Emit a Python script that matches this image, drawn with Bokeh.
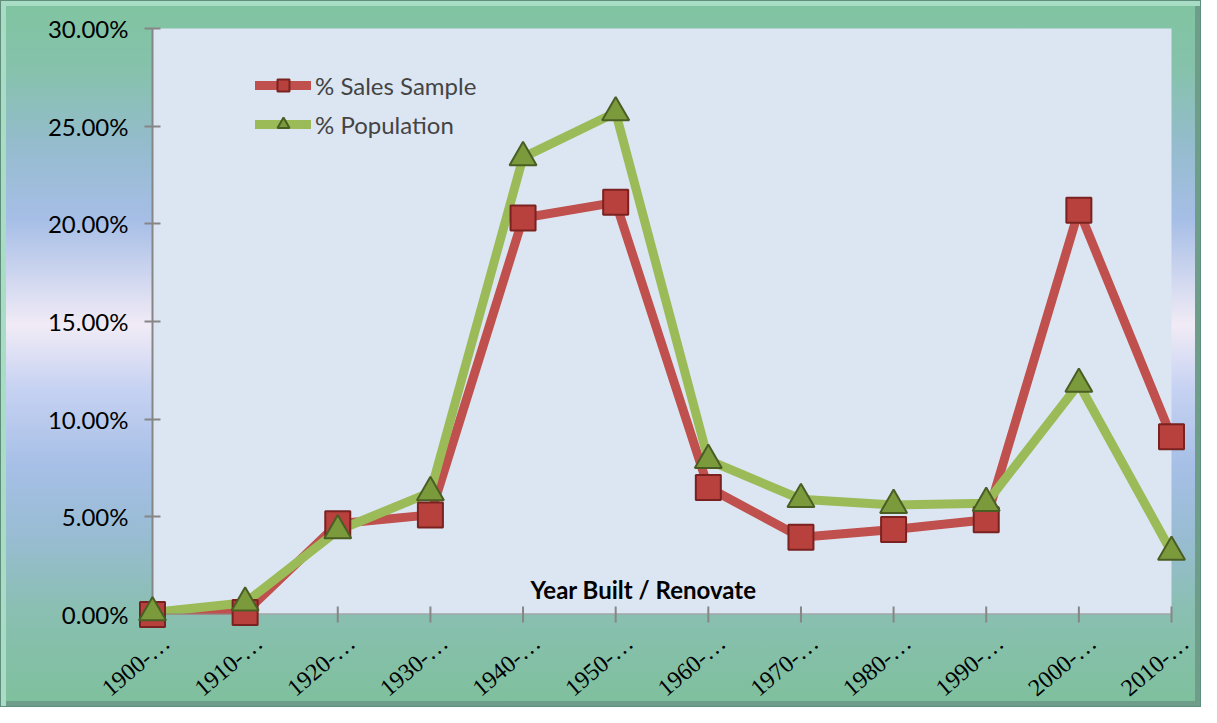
from bokeh.plotting import figure
from bokeh.models import (Range1d, FixedTicker, PrintfTickFormatter, Legend, LegendItem, Label,
                          ColumnDataSource, Span)
from bokeh.embed import file_html
from bokeh.resources import INLINE

categories = ["1900-…", "1910-…", "1920-…", "1930-…", "1940-…", "1950-…",
              "1960-…", "1970-…", "1980-…", "1990-…", "2000-…", "2010-…"]
sales_sample = [0.0, 0.1, 4.65, 5.1, 20.3, 21.1, 6.5, 3.95, 4.35, 4.85, 20.7, 9.1]
population = [0.1, 0.6, 4.3, 6.25, 23.4, 25.7, 7.9, 5.9, 5.6, 5.7, 11.8, 3.2]
y_ticks = [0, 5, 10, 15, 20, 25, 30]
axis_title = "Year Built / Renovate"

FONT = "Lato"
RED = "#c0504d"
GREEN = "#9bbb59"
AXIS = "#868686"

xs = list(range(len(categories)))

p = figure(width=1201, height=707, output_backend="svg", toolbar_location=None,
           x_range=Range1d(0, len(categories) - 1), y_range=Range1d(0, 30),
           min_border_left=152, min_border_right=30, min_border_top=28, min_border_bottom=93)

p.background_fill_color = "#dce6f2"
p.border_fill_color = None
p.outline_line_color = None
p.grid.visible = False
p.styles = {
    "background": "linear-gradient(180deg, #80c4a0 0%, #86c2ac 10%, #94bccc 20%, #a6bee6 31%, "
                  "#f1ebf6 46%, #c6d2f2 55%, #a6bfe6 66%, #98bcd2 76%, #8abfb2 86%, #7ec09c 100%)",
    "box-shadow": "inset 0 0 0 1px #5f8f7c, inset 3px 3px 0 3px #a8dcc4, inset -3px -3px 0 3px #6e9e8a",
}

yax = p.yaxis[0]
yax.axis_line_color = AXIS
yax.axis_line_width = 2
yax.major_tick_line_color = AXIS
yax.major_tick_line_width = 2
yax.major_tick_in = 8
yax.major_tick_out = 8
yax.minor_tick_line_color = None
yax.major_label_text_font = FONT
yax.major_label_text_font_size = "24px"
yax.major_label_text_color = "#000000"
yax.ticker = FixedTicker(ticks=y_ticks)
yax.formatter = PrintfTickFormatter(format="%.2f%%")
yax.major_label_standoff = 16

# category axis drawn by hand: axis line, crossing ticks and rotated labels
p.xaxis.visible = False
p.add_layout(Span(location=0, dimension="width", line_color=AXIS, line_width=2))
tick_src = ColumnDataSource(dict(x=xs, y=[0] * len(xs)))
p.scatter(x="x", y="y", source=tick_src, marker="dash", angle=1.5708, size=16,
          line_color=AXIS, line_width=2, level="annotation")

r_line = p.line(xs, sales_sample, line_color=RED, line_width=9, line_cap="round", line_join="round")
g_line = p.line(xs, population, line_color=GREEN, line_width=9, line_cap="round", line_join="round")
r_mark = p.scatter(xs, sales_sample, marker="square", size=25, fill_color="#b8403d",
                   line_color="#7a2220", line_width=2, level="overlay")
g_mark = p.scatter(xs, population, marker="triangle", size=27, fill_color="#7a9a3c",
                   line_color="#4a5e24", line_width=2, level="overlay")

label_src = ColumnDataSource(dict(x=xs, y=[0] * len(xs), text=categories))
p.text(x="x", y="y", text="text", source=label_src, angle=0.70, text_align="right",
       text_baseline="middle", x_offset=14, y_offset=25, text_font=FONT,
       text_font_size="24px", text_color="#000000", level="overlay")

p.add_layout(Label(x=5.3, y=1.3, text=axis_title, text_font=FONT, text_font_size="24px",
                   text_font_style="bold", text_align="center", text_baseline="middle",
                   text_color="#000000"))

legend = Legend(items=[LegendItem(label="% Sales Sample", renderers=[r_line, r_mark]),
                       LegendItem(label="% Population", renderers=[g_line, g_mark])],
                location=(103, 475), glyph_width=56, glyph_height=30, label_height=30,
                spacing=9, padding=0, margin=0, label_standoff=4,
                label_text_font=FONT, label_text_font_size="24px",
                border_line_color=None, background_fill_alpha=0)
p.add_layout(legend)

open("out.html", "w").write(file_html(p, INLINE))
